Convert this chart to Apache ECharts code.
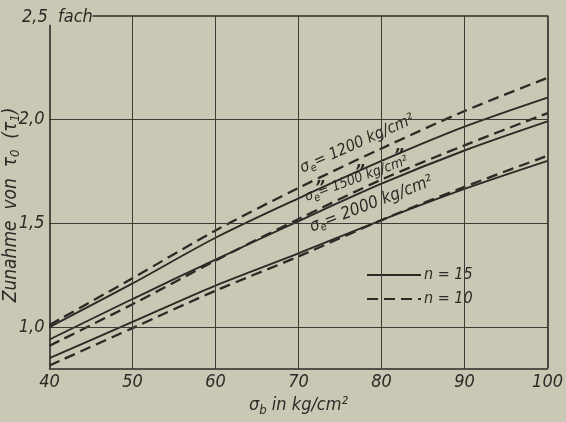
<!DOCTYPE html>
<html>
<head>
<meta charset="utf-8">
<script src="https://cdn.jsdelivr.net/npm/echarts/dist/echarts.min.js"></script>
<style>
html,body{margin:0;padding:0;background:#cac8b4;}
#c{width:566px;height:422px;}
</style>
</head>
<body>
<div id="c"></div>
<script>
// ---- data ----
const X_VALUES = [40, 50, 60, 70, 80, 90, 100];
const S1200_N15 = [1.00, 1.21, 1.43, 1.62, 1.80, 1.965, 2.105];
const S1200_N10 = [1.01, 1.235, 1.465, 1.67, 1.86, 2.04, 2.20];
const S1500_N15 = [0.94, 1.135, 1.325, 1.51, 1.69, 1.85, 1.99];
const S1500_N10 = [0.91, 1.11, 1.32, 1.52, 1.71, 1.875, 2.03];
const S2000_N15 = [0.85, 1.025, 1.20, 1.355, 1.515, 1.665, 1.80];
const S2000_N10 = [0.815, 0.995, 1.175, 1.34, 1.515, 1.675, 1.825];
const Y_TICKS = [1.0, 1.5, 2.0];
const X_GRID = [50, 60, 70, 80, 90];
const Y_GRID = [1.0, 1.5, 2.0];
const LEGEND_NAMES = ['n = 15', 'n = 10'];
const CURVE_LABELS = ['σ{s|e}= 1200 kg/cm²', 'σ{s|e}= 1500 kg/cm²', 'σ{s|e}= 2000 kg/cm²'];
const DITTO = '”';

const INK = '#2b2a26';
const F = "'Liberation Sans Narrow', 'DejaVu Sans Condensed', sans-serif";
const zip = (a) => X_VALUES.map((x, i) => [x, a[i]]);

const chart = echarts.init(document.getElementById('c'), null, {renderer: 'canvas'});

function lineSeries(name, data, dashed) {
  return {
    type: 'line', name: name, data: zip(data), symbol: 'none', smooth: 0.3,
    lineStyle: {color: INK, width: dashed ? 2.3 : 1.9, type: dashed ? [11, 6] : 'solid'},
    itemStyle: {color: INK},
    z: 3
  };
}

const gridLines = [];
X_GRID.forEach(v => gridLines.push({xAxis: v}));
Y_GRID.forEach(v => gridLines.push({yAxis: v}));

const subRich = {s: {fontSize: 11, fontStyle: 'italic', fontFamily: F, color: INK, padding: [9, 0, 0, 0]}};
const subRichBig = {s: {fontSize: 13, fontStyle: 'italic', fontFamily: F, color: INK, padding: [10, 0, 0, 0]}};

const series = [
  lineSeries(LEGEND_NAMES[0], S1200_N15, false),
  lineSeries(LEGEND_NAMES[1], S1200_N10, true),
  lineSeries(LEGEND_NAMES[0], S1500_N15, false),
  lineSeries(LEGEND_NAMES[1], S1500_N10, true),
  lineSeries(LEGEND_NAMES[0], S2000_N15, false),
  lineSeries(LEGEND_NAMES[1], S2000_N10, true)
];
series[0].markLine = {
  silent: true, symbol: 'none', animation: false,
  label: {show: false},
  lineStyle: {color: '#3c3b36', width: 1, type: 'solid'},
  data: gridLines.concat([
    [{coord: [40, 0.8], lineStyle: {width: 1.6, color: INK}}, {coord: [40, 2.455]}],
    [{coord: [100, 0.8], lineStyle: {width: 1.6, color: INK}}, {coord: [100, 2.5]}],
    [{coord: [45.2, 2.5], lineStyle: {width: 1.6, color: INK}}, {coord: [100, 2.5]}]
  ])
};

const dittoStyle = {text: DITTO, font: "italic bold 17px " + F, fill: INK, align: 'center', verticalAlign: 'middle'};

const option = {
  backgroundColor: '#cac8b4',
  animation: false,
  grid: {left: 49.5, right: 13, top: 15.5, bottom: 53},
  legend: {
    data: LEGEND_NAMES, orient: 'vertical', left: 361, top: 262,
    itemWidth: 54, itemHeight: 14, itemGap: 8,
    itemStyle: {opacity: 0},
    textStyle: {fontSize: 16, fontStyle: 'italic', fontFamily: F, color: INK, padding: [0, 0, 0, -2]},
    selectedMode: false
  },
  xAxis: {
    type: 'value', min: 40, max: 100, interval: 10,
    axisLine: {show: true, onZero: false, lineStyle: {color: INK, width: 1.6}},
    axisTick: {show: false}, splitLine: {show: false},
    axisLabel: {fontSize: 18, fontStyle: 'italic', fontFamily: F, color: INK, margin: 5},
    name: 'σ{s|b} in kg/cm²', nameLocation: 'middle', nameGap: 22,
    nameTextStyle: {fontSize: 18, fontStyle: 'italic', fontFamily: F, color: INK, rich: subRichBig}
  },
  yAxis: {
    type: 'value', min: 0.8, max: 2.5,
    axisLine: {show: false}, axisTick: {show: false}, splitLine: {show: false},
    axisLabel: {
      customValues: Y_TICKS,
      formatter: v => v.toFixed(1).replace('.', ','),
      fontSize: 18, fontStyle: 'italic', fontFamily: F, color: INK, margin: 5
    }
  },
  graphic: [
    {type: 'text', x: 22, y: 17, style: {text: '2,5  fach', font: "italic 18px " + F, fill: INK, verticalAlign: 'middle'}},
    {type: 'text', x: 11, y: 205, rotation: Math.PI / 2,
     style: {text: 'Zunahme  von  τ{s|0}  (τ{s|1})', font: "italic 19px " + F, fill: INK, align: 'center', verticalAlign: 'middle', rich: subRichBig}},
    {type: 'text', x: 305, y: 178, rotation: 24 * Math.PI / 180,
     style: {text: CURVE_LABELS[0], font: "italic 16px " + F, fill: INK, verticalAlign: 'bottom', rich: subRich}},
    {type: 'text', x: 320, y: 189, z: 10, style: dittoStyle},
    {type: 'text', x: 360, y: 173, z: 10, style: dittoStyle},
    {type: 'text', x: 399, y: 157, z: 10, style: dittoStyle},
    {type: 'text', x: 309, y: 207, rotation: 20 * Math.PI / 180,
     style: {text: CURVE_LABELS[1], font: "italic 14px " + F, fill: INK, verticalAlign: 'bottom', rich: subRich}},
    {type: 'text', x: 314, y: 237, rotation: 21 * Math.PI / 180,
     style: {text: CURVE_LABELS[2], font: "italic 17px " + F, fill: INK, verticalAlign: 'bottom', rich: subRich}}
  ],
  series: series
};
chart.setOption(option);
</script>
</body>
</html>
